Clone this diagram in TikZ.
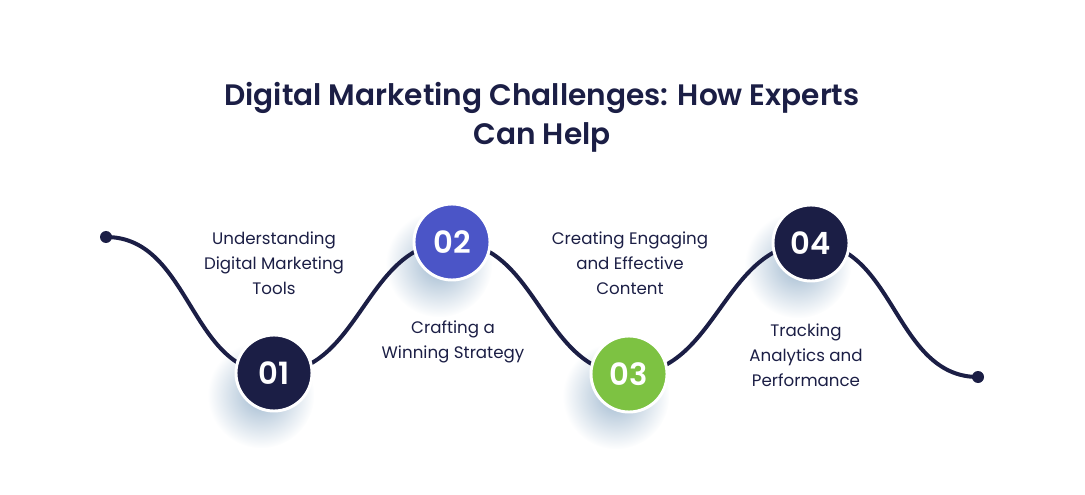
\documentclass[tikz,border=0pt]{standalone}
\usepackage{fontspec}
\setmainfont{Poppins}
\newfontfamily\headfont{Poppins SemiBold}
\usetikzlibrary{calc,fadings,positioning}
\definecolor{navy}{HTML}{1B1E45}
\definecolor{royal}{HTML}{4B55C7}
\definecolor{lime}{HTML}{7DC242}
\definecolor{haze}{HTML}{9FB8CF}
\tikzfading[name=glow, inner color=transparent!0, outer color=transparent!100]
\tikzset{%
	stage/.style  = {circle, draw=white, line width=2.2pt, minimum size=57pt, inner sep=0pt, text=white, font=\fontsize{23}{23}\headfont}, % numbered disc
	dot/.style    = {circle, fill=navy, minimum size=9pt, inner sep=0pt}, % wave ends
	caption/.style= {align=center, text=navy, font=\fontsize{12.5}{18.75}\selectfont}, % step texts
	wave/.style   = {navy, line width=3pt},
	halo/.style   = {haze, path fading=glow},
}
\begin{document}
\begin{tikzpicture}[x=0.75pt,y=-0.75pt]
	\useasboundingbox (0,0) rectangle (1085,495);
	% title
	\node[align=center, text=navy, font=\fontsize{22.2}{29.5}\headfont] (title) at (542,117) {Digital Marketing Challenges: How Experts\\Can Help};

	% centres of the wave
	\coordinate (p0) at (106,237);
	\coordinate (p1) at (274,373);
	\coordinate (p2) at (452,242);
	\coordinate (p3) at (629,374);
	\coordinate (p4) at (811,243);
	\coordinate (p5) at (978,377);

	% soft shadows
	\foreach \p in {p1,p2,p3,p4}
		\fill[halo] ($(\p)+(-13,22)$) circle (40pt);

	\draw[wave] (p0) to[out=0,in=180] (p1) to[out=0,in=180] (p2)
		to[out=0,in=180] (p3) to[out=0,in=180] (p4) to[out=0,in=180] (p5);

	\node[dot] (start) at (p0) {};
	\node[dot] (finish) at (p5) {};
	\node[stage, fill=navy] (c1) at (p1) {01};
	\node[stage, fill=royal] (c2) at (p2) {02};
	\node[stage, fill=lime] (c3) at (p3) {03};
	\node[stage, fill=navy] (c4) at (p4) {04};

	\node[caption] (t1) at (274,263) {Understanding\\Digital Marketing\\Tools};
	\node[caption] (t2) at (453,342) {Crafting a\\Winning Strategy};
	\node[caption] (t3) at (630,263) {Creating Engaging\\and Effective\\Content};
	\node[caption] (t4) at (806,355) {Tracking\\Analytics and\\Performance};
\end{tikzpicture}
\end{document}
